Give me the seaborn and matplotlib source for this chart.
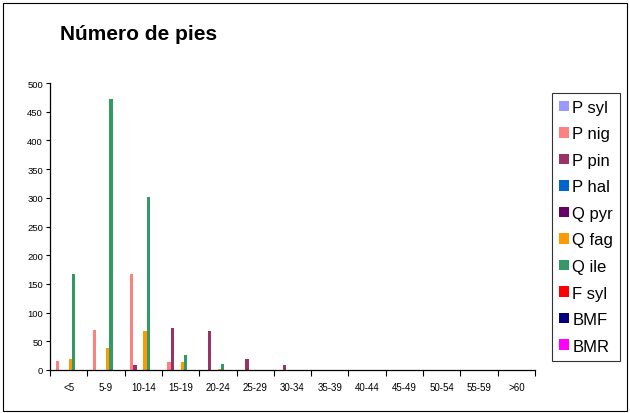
import matplotlib
matplotlib.use("Agg")
import matplotlib.pyplot as plt
import seaborn as sns
import pandas as pd
from matplotlib.patches import Rectangle, Patch

categories = ["<5", "5-9", "10-14", "15-19", "20-24", "25-29", "30-34",
              "35-39", "40-44", "45-49", "50-54", "55-59", ">60"]
series = ["P syl", "P nig", "P pin", "P hal", "Q pyr", "Q fag", "Q ile",
          "F syl", "BMF", "BMR"]
p_syl = [0, 0, 0, 0, 0, 0, 0, 0, 0, 0, 0, 0, 0]
p_nig = [15, 70, 167, 14, 0, 0, 0, 0, 0, 0, 0, 0, 0]
p_pin = [0, 0, 8, 73, 68, 19, 8, 0, 0, 0, 0, 0, 0]
p_hal = [0, 0, 0, 0, 0, 0, 0, 0, 0, 0, 0, 0, 0]
q_pyr = [0, 0, 0, 0, 0, 0, 0, 0, 0, 0, 0, 0, 0]
q_fag = [19, 39, 68, 14, 2, 0, 0, 0, 0, 0, 0, 0, 0]
q_ile = [167, 472, 302, 26, 10, 0, 0, 0, 0, 0, 0, 0, 0]
f_syl = [0, 0, 0, 0, 0, 0, 0, 0, 0, 0, 0, 0, 0]
bmf = [0, 0, 0, 0, 0, 0, 0, 0, 0, 0, 0, 0, 0]
bmr = [0, 0, 0, 0, 0, 0, 0, 0, 0, 0, 0, 0, 0]
yticks = [0, 50, 100, 150, 200, 250, 300, 350, 400, 450, 500]

colors = ["#9999FF", "#FF8080", "#993366", "#0066CC", "#660066",
          "#FF9900", "#339966", "#FF0000", "#000080", "#FF00FF"]

values = [p_syl, p_nig, p_pin, p_hal, q_pyr, q_fag, q_ile, f_syl, bmf, bmr]
rows = []
for s, vals in zip(series, values):
    for c, v in zip(categories, vals):
        rows.append({"cat": c, "serie": s, "n": v})
df = pd.DataFrame(rows)

sns.set_style("white")
plt.rcParams["font.family"] = ["Liberation Sans", "DejaVu Sans"]
plt.rcParams["text.color"] = "black"
plt.rcParams["xtick.color"] = "black"
plt.rcParams["ytick.color"] = "black"
plt.rcParams["axes.labelcolor"] = "black"

fig = plt.figure(figsize=(6.3, 4.14), dpi=100)
ax = fig.add_axes([50 / 630, 1 - 371 / 414, (535 - 50) / 630, (371 - 84) / 414])

sns.barplot(data=df, x="cat", y="n", hue="serie", order=categories,
            hue_order=series, palette=colors, width=0.88, ax=ax,
            legend=False, saturation=1, linewidth=0)

ax.set_xlim(-0.5, len(categories) - 0.5)
ax.set_ylim(0, 500)
ax.set_yticks(yticks)
ax.set_yticklabels([str(t) for t in yticks], fontsize=6.8)
ax.set_xlabel("")
ax.set_ylabel("")

# x ticks at category boundaries, labels at centers
ax.set_xticks([i - 0.5 for i in range(len(categories) + 1)])
ax.set_xticklabels([""] * (len(categories) + 1))
ax.set_xticks(range(len(categories)), minor=True)
ax.set_xticklabels(categories, minor=True, fontsize=7)
ax.tick_params(axis="x", which="major", direction="out", length=4, width=0.8,
               color="black", bottom=True)
ax.tick_params(axis="x", which="minor", length=0, pad=9)
ax.tick_params(axis="y", direction="out", length=3, width=0.8, color="black",
               left=True, pad=2)

for side in ["top", "right"]:
    ax.spines[side].set_visible(False)
for side in ["left", "bottom"]:
    ax.spines[side].set_color("black")
    ax.spines[side].set_linewidth(0.9)

fig.text(60 / 630, 1 - 34 / 414, "Número de pies", fontsize=15,
         fontweight="bold", ha="left", va="center", color="black")

handles = [Patch(facecolor=c, edgecolor="none") for c in colors]
leg = fig.legend(handles, series, loc="upper left",
                 bbox_to_anchor=(552 / 630, 1 - 94 / 414),
                 fontsize=12, frameon=True, fancybox=False,
                 handlelength=0.6, handleheight=0.6, handletextpad=0.2,
                 labelspacing=0.69, borderpad=0.42, borderaxespad=0)
leg.get_frame().set_edgecolor("black")
leg.get_frame().set_linewidth(0.8)

fig.patches.append(Rectangle((3 / 630, 2 / 414), 624 / 630, 408 / 414,
                             transform=fig.transFigure, fill=False,
                             edgecolor="black", linewidth=0.8))

fig.savefig("out.png", dpi=100, facecolor="white")
